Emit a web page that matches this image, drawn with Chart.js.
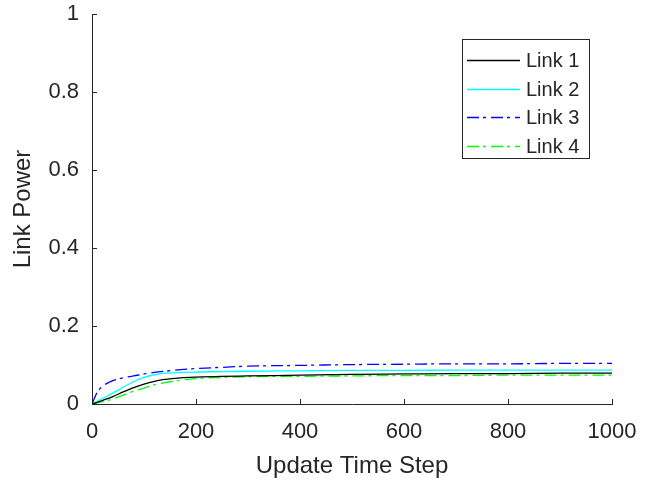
<!DOCTYPE html>
<html>
<head>
<meta charset="utf-8">
<script src="https://cdn.jsdelivr.net/npm/chart.js@4/dist/chart.umd.min.js"></script>
<style>
  html, body { margin: 0; padding: 0; background: #fff; }
  #wrap { width: 652px; height: 483px; }
</style>
</head>
<body>
<div id="wrap"><canvas id="chart1" width="652" height="483"></canvas></div>
<script>
var steps = [0, 10, 20, 40, 60, 80, 100, 120, 140, 170, 200, 250, 300, 400, 500, 600, 700, 800, 900, 1000];
var link1 = [0, 0.004, 0.009, 0.019, 0.031, 0.042, 0.051, 0.058, 0.063, 0.067, 0.069, 0.071, 0.072, 0.074, 0.076, 0.077, 0.078, 0.078, 0.079, 0.079];
var link2 = [0, 0.007, 0.014, 0.028, 0.043, 0.057, 0.068, 0.075, 0.079, 0.081, 0.082, 0.083, 0.084, 0.085, 0.086, 0.086, 0.087, 0.087, 0.087, 0.087];
var link3 = [0, 0.030, 0.045, 0.060, 0.067, 0.072, 0.077, 0.081, 0.084, 0.088, 0.091, 0.094, 0.097, 0.099, 0.101, 0.102, 0.103, 0.103, 0.104, 0.104];
var link4 = [0, 0.003, 0.006, 0.013, 0.023, 0.033, 0.041, 0.049, 0.055, 0.061, 0.065, 0.068, 0.070, 0.071, 0.072, 0.073, 0.073, 0.074, 0.074, 0.074];
var seriesNames = ["Link 1", "Link 2", "Link 3", "Link 4"];

var axisColor = "#262626";
var fontFamily = "'Liberation Sans', Arial, sans-serif";

function pts(ys) {
	return steps.map(function (x, i) { return { x: x, y: ys[i] }; });
}

// matlab style ticks pointing into the plot
var innerTicks = {
	id: "innerTicks",
	afterDatasetsDraw: function (chart) {
		var c = chart.ctx, a = chart.chartArea;
		var xs = chart.scales.x, ys = chart.scales.y;
		c.save();
		c.strokeStyle = axisColor;
		c.lineWidth = 1;
		c.beginPath();
		xs.ticks.forEach(function (t) {
			var px = Math.round(xs.getPixelForValue(t.value)) + 0.5;
			c.moveTo(px, a.bottom);
			c.lineTo(px, a.bottom - 5);
		});
		ys.ticks.forEach(function (t) {
			var py = Math.round(ys.getPixelForValue(t.value)) + 0.5;
			c.moveTo(a.left, py);
			c.lineTo(a.left + 5, py);
		});
		c.stroke();
		c.restore();
	}
};

var boxLegend = {
	id: "boxLegend",
	afterDraw: function (chart) {
		var c = chart.ctx, a = chart.chartArea;
		var bx = a.right - 150, by = a.top + 25, bw = 127, bh = 119;
		c.save();
		c.fillStyle = "#fff";
		c.fillRect(bx, by, bw, bh);
		c.strokeStyle = axisColor;
		c.lineWidth = 1;
		c.strokeRect(bx + 0.5, by + 0.5, bw, bh);
		c.font = "20px " + fontFamily;
		c.textBaseline = "middle";
		c.textAlign = "left";
		chart.data.datasets.forEach(function (ds, i) {
			var y = Math.round(by + 21 + i * 28.5) + 0.5;
			c.strokeStyle = ds.borderColor;
			c.lineWidth = ds.borderWidth;
			c.setLineDash(ds.borderDash || []);
			c.beginPath();
			c.moveTo(bx + 5, y);
			c.lineTo(bx + 58, y);
			c.stroke();
			c.setLineDash([]);
			c.fillStyle = axisColor;
			c.fillText(ds.label, bx + 64, y + 1);
		});
		c.restore();
	}
};

var dashDot = [12, 4, 3, 5];

var chartdata = {
	type: "line",
	data: {
		datasets: [
			{ label: seriesNames[0], data: pts(link1), borderColor: "#000000", borderWidth: 1.3 },
			{ label: seriesNames[1], data: pts(link2), borderColor: "#00ffff", borderWidth: 1.3 },
			{ label: seriesNames[2], data: pts(link3), borderColor: "#0000ff", borderWidth: 1.3, borderDash: dashDot },
			{ label: seriesNames[3], data: pts(link4), borderColor: "#00ff00", borderWidth: 1.3, borderDash: dashDot }
		]
	},
	options: {
		responsive: false,
		animation: false,
		events: [],
		layout: { padding: { top: 14, right: 40, left: 0, bottom: 0 } },
		elements: {
			point: { radius: 0 },
			line: { fill: false, cubicInterpolationMode: "monotone" }
		},
		plugins: { legend: { display: false }, tooltip: { enabled: false } },
		scales: {
			x: {
				type: "linear",
				min: 0,
				max: 1000,
				afterFit: function (s) { s.height = 79; s.paddingLeft = 0; s.paddingRight = 0; },
				grid: { display: false, drawTicks: false },
				border: { display: true, color: axisColor, width: 1 },
				ticks: {
					stepSize: 200, color: axisColor, padding: 15, maxRotation: 0,
					font: { size: 22, family: fontFamily },
					callback: function (v) { return String(v); }
				},
				title: { display: true, text: "Update Time Step", color: axisColor, padding: { top: 0, bottom: 2 }, font: { size: 24, family: fontFamily } }
			},
			y: {
				min: 0,
				max: 1,
				afterFit: function (s) { s.width = 92; s.paddingTop = 0; s.paddingBottom = 0; },
				grid: { display: false, drawTicks: false },
				border: { display: true, color: axisColor, width: 1 },
				ticks: {
					stepSize: 0.2, color: axisColor, padding: 13,
					font: { size: 22, family: fontFamily },
					callback: function (v) { return String(Math.round(v * 10) / 10); }
				},
				title: { display: true, text: "Link Power", color: axisColor, padding: { top: 9, bottom: 0 }, font: { size: 24, family: fontFamily } }
			}
		}
	},
	plugins: [innerTicks, boxLegend]
};

var ctx = document.getElementById("chart1").getContext("2d");
new Chart(ctx, chartdata);
</script>
</body>
</html>
